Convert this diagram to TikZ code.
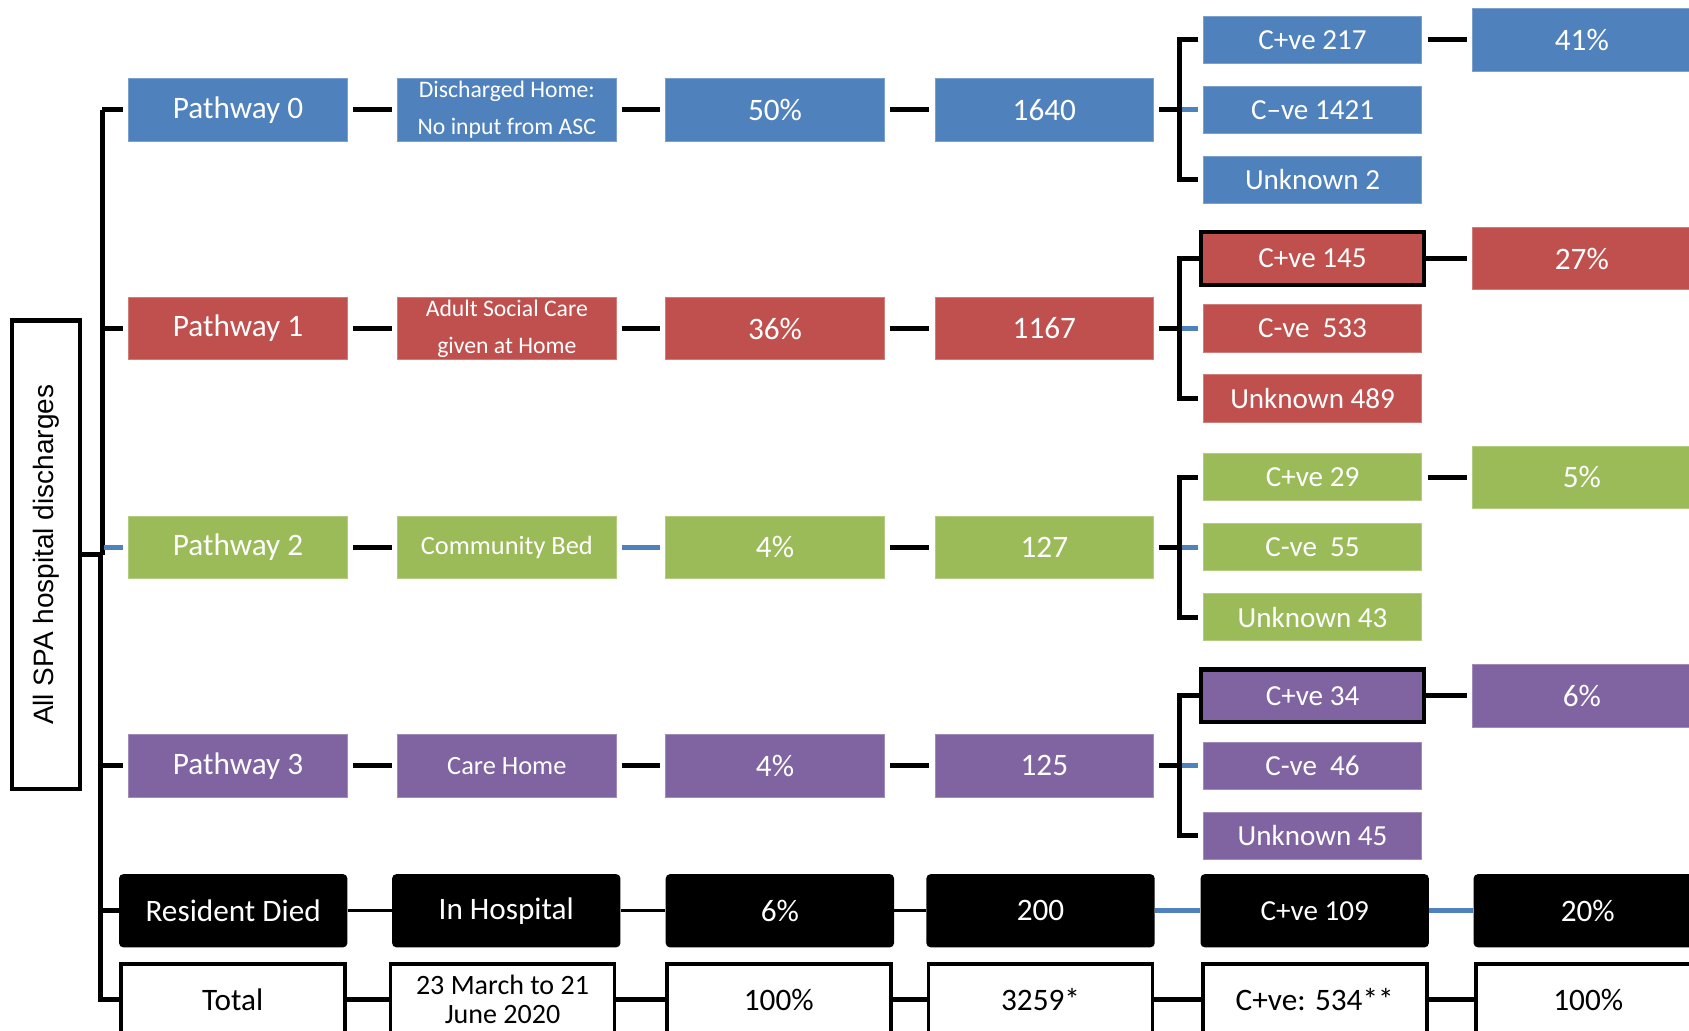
\documentclass[tikz,border=0pt]{standalone}
\usepackage{fontspec}
\setmainfont{Carlito}
\newfontfamily\labelfont{Liberation Sans}
\definecolor{pblue}{HTML}{4F81BD}
\definecolor{pred}{HTML}{C0504D}
\definecolor{pgreen}{HTML}{9BBB59}
\definecolor{ppurple}{HTML}{8064A2}
\begin{document}
\begin{tikzpicture}[x=1pt,y=-1pt,
  cbox/.style={inner sep=0pt, text=white, align=center, minimum width=203pt, minimum height=58pt, font=\fontsize{29}{34}\selectfont, fill=#1, draw=#1!75!white, line width=0.8pt},
  kid/.style={cbox=#1, minimum height=44pt, font=\fontsize{27}{32}\selectfont},
  hilite/.style={draw=black, line width=4pt, minimum width=207pt, minimum height=49pt},
  small/.style={font=\fontsize{22}{34}\selectfont},
  mid/.style={font=\fontsize{24.5}{30}\selectfont},
  link/.style={line width=4.5pt, shorten <=5pt, shorten >=5pt},
  blink/.style={link, draw=pblue},
  brk/.style={line width=4.6pt, line join=miter},
  dbox/.style={fill=black, rounded corners=4pt, text=white, minimum width=212pt, minimum height=68pt, inner sep=0pt, font=\fontsize{29}{34}\selectfont},
  tbox/.style={draw=black, line width=3.5pt, fill=white, text=black, minimum width=208pt, minimum height=66pt, inner sep=0pt, align=center, font=\fontsize{29}{34}\selectfont},
  dlink/.style={line width=3pt},
  dblink/.style={line width=4.5pt, draw=pblue},
  tlink/.style={line width=4.5pt}]
\useasboundingbox (0,0) rectangle (1568,957);
\clip (0,0) rectangle (1568,957);

% left label
\node[draw=black, line width=4pt, fill=white, minimum width=63pt, minimum height=435pt, inner sep=0pt] (all) at (42.5,515) {};
\node[rotate=90, font=\labelfont\fontsize{26}{30}\selectfont] (alltxt) at (all.center) {All SPA hospital discharges};

% Pathway 0
\node[cbox=pblue] (p0) at (221,102) {Pathway 0};
\node[cbox=pblue, small] (d0) at (470.5,102) {Discharged Home:\\No input from ASC};
\node[cbox=pblue] (r0) at (719.5,102) {50\%};
\node[cbox=pblue] (n0) at (969.5,102) {1640};
\node[kid=pblue] (c0a) at (1218.5,37) {C+ve 217};
\node[kid=pblue] (c0b) at (1218.5,102) {C–ve 1421};
\node[kid=pblue] (c0c) at (1218.5,167) {Unknown 2};
\node[cbox=pblue] (q0) at (1468.5,37) {41\%};

% Pathway 1
\node[cbox=pred] (p1) at (221,305) {Pathway 1};
\node[cbox=pred, small] (d1) at (470.5,305) {Adult Social Care\\given at Home};
\node[cbox=pred] (r1) at (719.5,305) {36\%};
\node[cbox=pred] (n1) at (969.5,305) {1167};
\node[kid=pred, hilite] (c1a) at (1218.5,240) {C+ve 145};
\node[kid=pred] (c1b) at (1218.5,305) {C-ve\ \ 533};
\node[kid=pred] (c1c) at (1218.5,370) {Unknown 489};
\node[cbox=pred] (q1) at (1468.5,240) {27\%};

% Pathway 2
\node[cbox=pgreen] (p2) at (221,508) {Pathway 2};
\node[cbox=pgreen, mid] (d2) at (470.5,508) {Community Bed};
\node[cbox=pgreen] (r2) at (719.5,508) {4\%};
\node[cbox=pgreen] (n2) at (969.5,508) {127};
\node[kid=pgreen] (c2a) at (1218.5,443) {C+ve 29};
\node[kid=pgreen] (c2b) at (1218.5,508) {C-ve\ \ 55};
\node[kid=pgreen] (c2c) at (1218.5,573) {Unknown 43};
\node[cbox=pgreen] (q2) at (1468.5,443) {5\%};

% Pathway 3
\node[cbox=ppurple] (p3) at (221,711) {Pathway 3};
\node[cbox=ppurple, mid] (d3) at (470.5,711) {Care Home};
\node[cbox=ppurple] (r3) at (719.5,711) {4\%};
\node[cbox=ppurple] (n3) at (969.5,711) {125};
\node[kid=ppurple, hilite] (c3a) at (1218.5,646) {C+ve 34};
\node[kid=ppurple] (c3b) at (1218.5,711) {C-ve\ \ 46};
\node[kid=ppurple] (c3c) at (1218.5,776) {Unknown 45};
\node[cbox=ppurple] (q3) at (1468.5,646) {6\%};

% Resident died row
\node[dbox] (rd) at (216.5,845.5) {Resident Died};
\node[dbox] (ih) at (470,845.5) {In Hospital};
\node[dbox] (r6) at (724,845.5) {6\%};
\node[dbox] (n200) at (966,845.5) {200};
\node[dbox, font=\fontsize{27}{32}\selectfont] (cpos) at (1220.5,845.5) {C+ve 109};
\node[dbox] (q20) at (1474,845.5) {20\%};

% Total row
\node[tbox] (tot) at (216,928) {Total};
\node[tbox, font=\fontsize{26}{26.5}\selectfont] (date) at (466.5,928) {23 March to 21\\June 2020};
\node[tbox] (r100) at (723,928) {100\%};
\node[tbox] (ntot) at (966,928) {3259*};
\node[tbox] (ctot) at (1220.5,928) {C+ve: 534**};
\node[tbox] (q100) at (1474.5,928) {100\%};

% trunk
\coordinate (tTop) at (95,102);
\coordinate (tJ) at (95,515);
\coordinate (tJb) at (93,515);
\coordinate (tBot) at (93,928);
\draw[brk] (all.east) -- (tJ);
\draw[brk] (tTop) -- (tJ);
\draw[brk] (tJb) -- (tBot) -- (tot.west);
\draw[line width=4.5pt, shorten >=5pt] (tTop) -- (p0.west);
\draw[line width=4.5pt, shorten >=5pt] (tTop |- p1.west) -- (p1.west);
\draw[line width=4.5pt, shorten >=5pt, draw=pblue] ([xshift=2pt]tTop |- p2.west) -- (p2.west);
\draw[line width=4.5pt, shorten >=5pt] (tJb |- p3.west) -- (p3.west);
\draw[tlink] (tJb |- rd.west) -- (rd.west);

% pathway row links
\draw[link] (p0.east) -- (d0.west);
\draw[link] (d0.east) -- (r0.west);
\draw[link] (r0.east) -- (n0.west);
\draw[link] (p1.east) -- (d1.west);
\draw[link] (d1.east) -- (r1.west);
\draw[link] (r1.east) -- (n1.west);
\draw[link] (p2.east) -- (d2.west);
\draw[blink] (d2.east) -- (r2.west);
\draw[link] (r2.east) -- (n2.west);
\draw[link] (p3.east) -- (d3.west);
\draw[link] (d3.east) -- (r3.west);
\draw[link] (r3.east) -- (n3.west);

% brackets
\coordinate (b0) at (1095,102);
\coordinate (b1) at (1095,305);
\coordinate (b2) at (1095,508);
\coordinate (b3) at (1095,711);
\draw[line width=4.5pt, shorten <=5pt] (n0.east) -- (b0);
\draw[line width=4.5pt, shorten <=5pt] (n1.east) -- (b1);
\draw[line width=4.5pt, shorten <=5pt] (n2.east) -- (b2);
\draw[line width=4.5pt, shorten <=5pt] (n3.east) -- (b3);
\draw[brk] ([xshift=-4pt]c0a.west) -- (c0a.west -| b0) -- (c0c.west -| b0) -- ([xshift=-4pt]c0c.west);
\draw[brk] (c1a.west) -- (c1a.west -| b1) -- (c1c.west -| b1) -- ([xshift=-4pt]c1c.west);
\draw[brk] ([xshift=-4pt]c2a.west) -- (c2a.west -| b2) -- (c2c.west -| b2) -- ([xshift=-4pt]c2c.west);
\draw[brk] (c3a.west) -- (c3a.west -| b3) -- (c3c.west -| b3) -- ([xshift=-4pt]c3c.west);
\draw[line width=4.5pt, draw=pblue, shorten <=2pt, shorten >=4pt] (b0) -- (c0b.west);
\draw[line width=4.5pt, draw=pblue, shorten <=2pt, shorten >=4pt] (b1) -- (c1b.west);
\draw[line width=4.5pt, draw=pblue, shorten <=2pt, shorten >=4pt] (b2) -- (c2b.west);
\draw[line width=4.5pt, draw=pblue, shorten <=2pt, shorten >=4pt] (b3) -- (c3b.west);

% percentage links
\draw[link] (c0a.east) -- (q0.west);
\draw[link, shorten <=0pt] (c1a.east) -- (q1.west);
\draw[link] (c2a.east) -- (q2.west);
\draw[link, shorten <=0pt] (c3a.east) -- (q3.west);

% resident died row links
\draw[dlink] (rd.east) -- (ih.west);
\draw[dlink] (ih.east) -- (r6.west);
\draw[dlink] (r6.east) -- (n200.west);
\draw[dblink] (n200.east) -- (cpos.west);
\draw[dblink] (cpos.east) -- (q20.west);

% total row links
\draw[tlink] (tot.east) -- (date.west);
\draw[tlink] (date.east) -- (r100.west);
\draw[tlink] (r100.east) -- (ntot.west);
\draw[tlink] (ntot.east) -- (ctot.west);
\draw[tlink] (ctot.east) -- (q100.west);
\end{tikzpicture}
\end{document}
